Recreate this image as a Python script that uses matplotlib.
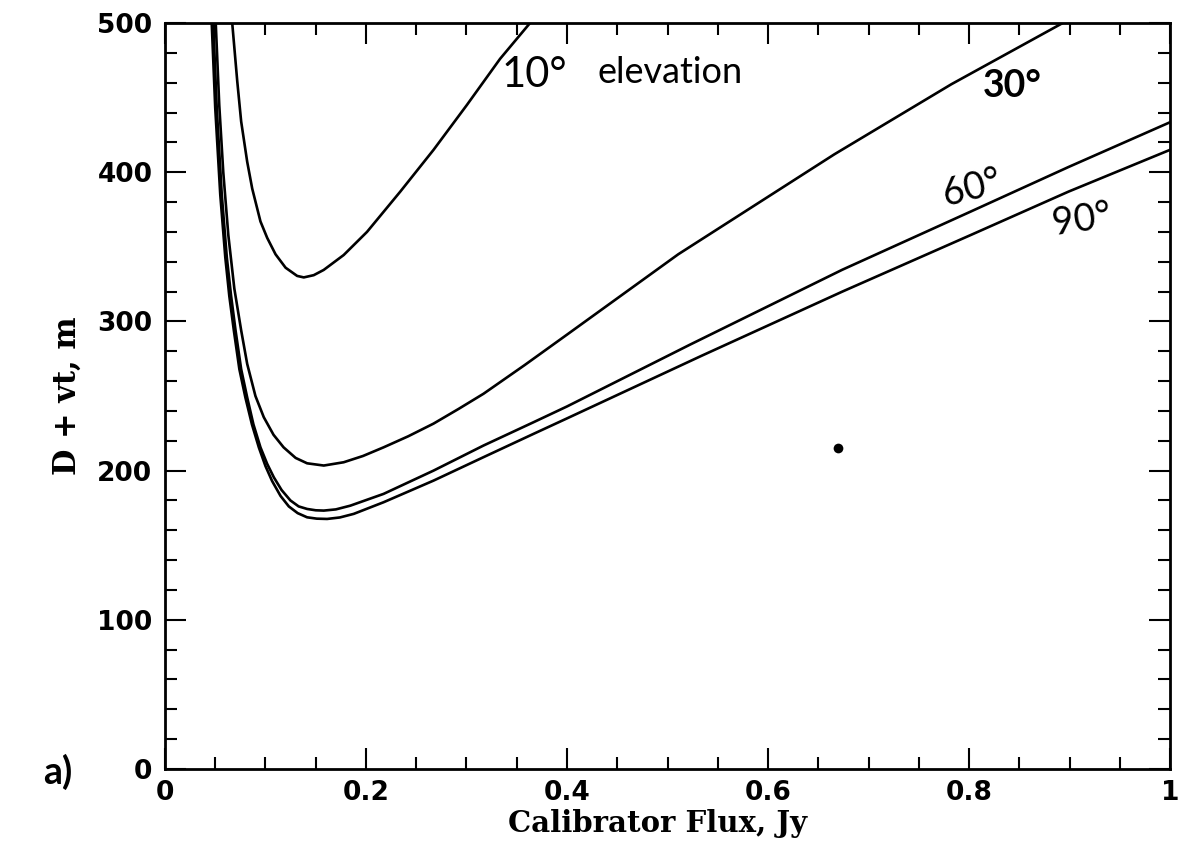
import numpy as np
import matplotlib
matplotlib.use("Agg")
import matplotlib.pyplot as plt
from matplotlib.ticker import MultipleLocator

# Required baseline (D + vt) versus calibrator flux, one curve per elevation
flux_10 = [0.0669, 0.0719, 0.0758, 0.0818, 0.0868, 0.0950, 0.1017, 0.1100, 0.1200, 0.1315,
           0.1381, 0.1480, 0.1579, 0.1778, 0.2010, 0.2341, 0.2672, 0.3003, 0.3334, 0.3632]
dist_10 = [500, 461, 434, 407, 389, 367, 356, 345, 336, 330.5,
           329.5, 331, 334.5, 344.5, 360, 387, 415, 445, 476, 500]

flux_30 = [0.0505, 0.054, 0.058, 0.063, 0.069, 0.0758, 0.0818, 0.090, 0.0983, 0.108, 0.118, 0.130,
           0.1414, 0.158, 0.1778, 0.197, 0.2175, 0.242, 0.2672, 0.292, 0.3169, 0.358, 0.3997,
           0.5107, 0.666, 0.7825, 0.8932]
dist_30 = [500, 445, 400, 358, 322, 294, 271.5, 250, 235.8, 224, 215.6, 208.5,
           204.9, 203.4, 205.6, 209.8, 215.6, 223, 231.5, 241.3, 251.5, 270.8, 291,
           345, 412, 459, 500]

flux_60 = [0.048, 0.0515, 0.0565, 0.0615, 0.0658, 0.0702, 0.0758, 0.0818, 0.088, 0.095, 0.1017,
           0.1083, 0.116, 0.1248, 0.133, 0.1414, 0.150, 0.158, 0.170, 0.1844, 0.2175, 0.2672,
           0.3169, 0.3666, 0.40, 0.5223, 0.6738, 0.8019, 0.899, 1.0]
dist_60 = [500, 443, 385, 343, 317, 294, 268, 249, 231, 215.6, 204.5,
           195.5, 187, 180, 176, 174.3, 173.4, 173.2, 174, 176.5, 184.4, 200,
           216.8, 232.4, 243, 284.4, 334.6, 373.7, 403.5, 433.5]

flux_90 = [0.0465, 0.050, 0.055, 0.060, 0.064, 0.0685, 0.074, 0.080, 0.0865, 0.0934, 0.100,
           0.1066, 0.115, 0.1232, 0.132, 0.1414, 0.151, 0.1613, 0.174, 0.1878, 0.2175, 0.2672,
           0.3169, 0.3666, 0.40, 0.534, 0.674, 0.802, 0.899, 1.0]
dist_90 = [500, 443, 385, 343, 317, 294, 268, 249, 231, 215.5, 203,
           193, 183, 176, 171.5, 168.7, 167.8, 167.6, 168.6, 171, 178.8, 193.3,
           209, 224.6, 235, 277, 320, 358, 387, 415]

# ink spot on the sheet
spot_flux = [0.67]
spot_dist = [215]

x_ticks = [0, 0.2, 0.4, 0.6, 0.8, 1]
x_ticklabels = ["0", "0.2", "0.4", "0.6", "0.8", "1"]
y_ticks = [0, 100, 200, 300, 400, 500]

fig = plt.figure(figsize=(11.81, 8.47), dpi=100)
ax = fig.add_axes([0.1397, 0.0921, 0.8510, 0.8807])

for fx, dy in [(flux_10, dist_10), (flux_30, dist_30), (flux_60, dist_60), (flux_90, dist_90)]:
    ax.plot(fx, dy, color="black", lw=1.9, solid_joinstyle="round")
ax.plot(spot_flux, spot_dist, "o", color="black", ms=7, mew=0)

ax.set_xlim(0, 1)
ax.set_ylim(0, 500)

ax.set_xticks(x_ticks)
ax.set_xticklabels(x_ticklabels)
ax.set_yticks(y_ticks)
ax.xaxis.set_minor_locator(MultipleLocator(0.05))
ax.yaxis.set_minor_locator(MultipleLocator(20))

ax.tick_params(which="both", direction="in", top=True, right=True, width=1.5)
ax.tick_params(which="major", length=15, labelsize=19, pad=9)
ax.tick_params(axis="x", which="major", pad=8)
ax.tick_params(which="minor", length=8.5)
for lab in ax.get_xticklabels() + ax.get_yticklabels():
    lab.set_fontweight("bold")
for sp in ax.spines.values():
    sp.set_linewidth(2.0)

ax.set_xlabel("Calibrator Flux, Jy", fontsize=21, fontweight="bold", family="DejaVu Serif")
ax.set_ylabel("D + vt, m", fontsize=22, fontweight="bold", family="DejaVu Serif")
ax.xaxis.set_label_coords(0.49, -0.054)
ax.yaxis.set_label_coords(-0.082, 0.5)

# handwritten curve labels
hand = dict(color="black", family=["Lato", "DejaVu Sans"])
ax.text(0.368, 465, "10°", fontsize=30, ha="center", va="center", **hand)
ax.text(0.503, 467, "elevation", fontsize=26, ha="center", va="center", **hand)
ax.text(0.843, 458, "30°", fontsize=27, ha="center", va="center", fontweight="bold", **hand)
ax.text(0.803, 389, "60°", fontsize=27, ha="center", va="center", rotation=14, **hand)
ax.text(0.912, 368, "90°", fontsize=27, ha="center", va="center", rotation=8, **hand)
fig.text(0.049, 0.0886, "a)", fontsize=27, fontweight="bold", ha="center", va="center", **hand)

fig.savefig("out.png", dpi=100)
